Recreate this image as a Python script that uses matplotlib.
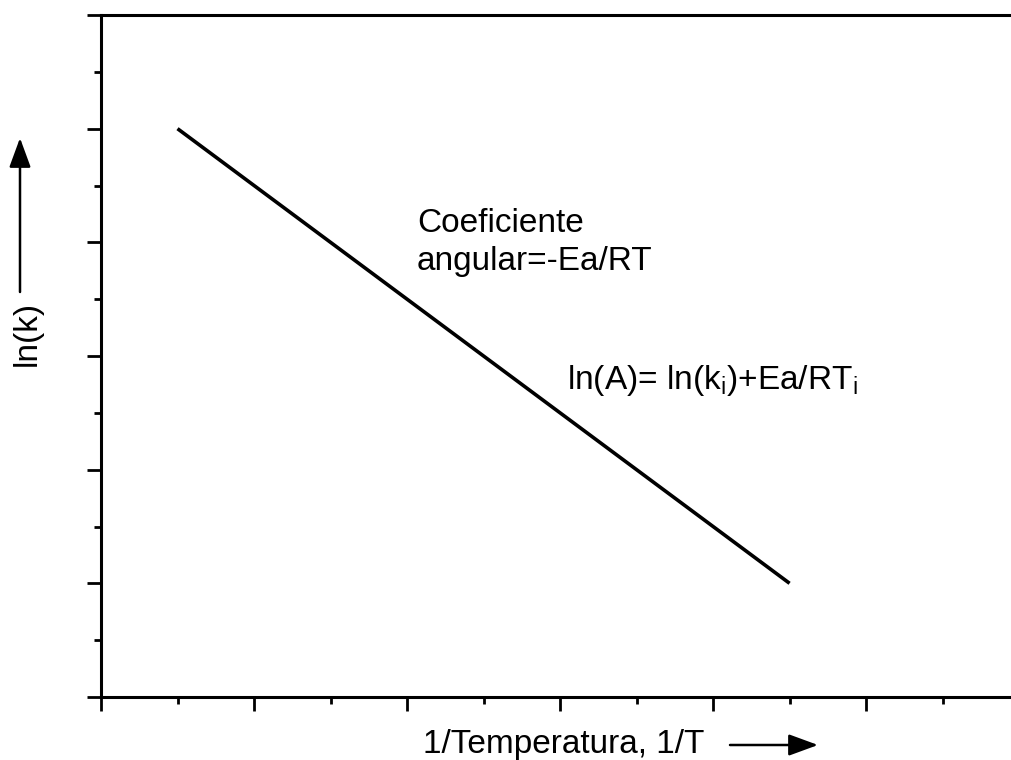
import matplotlib
matplotlib.use('Agg')
import matplotlib.pyplot as plt
from matplotlib.patches import FancyArrowPatch, ArrowStyle
from matplotlib.ticker import MultipleLocator

plt.rcParams['font.family'] = ['Liberation Sans', 'DejaVu Sans']
plt.rcParams['mathtext.fontset'] = 'custom'
plt.rcParams['mathtext.rm'] = 'Liberation Sans'

# schematic Arrhenius line (arbitrary units)
inv_T = [0.5, 4.5]
ln_k = [5.0, 1.0]

W, H = 1011, 760
fig = plt.figure(figsize=(W / 100, H / 100), dpi=100)
ax = fig.add_axes([101 / W, 1 - 697 / H, 1 - 101 / W, 682 / H])

ax.plot(inv_T, ln_k, color='black', lw=2.6, solid_capstyle='butt')

ax.set_xlim(0, 5.947)
ax.set_ylim(0, 6)
ax.xaxis.set_major_locator(MultipleLocator(1))
ax.xaxis.set_minor_locator(MultipleLocator(0.5))
ax.yaxis.set_major_locator(MultipleLocator(1))
ax.yaxis.set_minor_locator(MultipleLocator(0.5))
ax.tick_params(which='major', direction='out', length=10, width=2,
               labelbottom=False, labelleft=False)
ax.tick_params(which='minor', direction='out', length=5, width=2)
for s in ['left', 'bottom', 'top']:
    ax.spines[s].set_linewidth(2.2)
ax.spines['right'].set_visible(False)


def px(x, y):
    # reference pixel coords (from top-left) -> figure fraction
    return x / W, 1 - y / H


fs = 24
fig.text(*px(417, 208), 'Coeficiente\nangular=-Ea/RT', fontsize=fs,
         va='top', ha='left', linespacing=1.3)
fig.text(*px(567, 380), r'ln(A)= ln(k$_\mathregular{i}$)+Ea/RT$_\mathregular{i}$',
         fontsize=fs, va='center', ha='left')
fig.text(*px(423, 745), '1/Temperatura, 1/T', fontsize=fs,
         ha='left', va='center')
fig.text(*px(27, 333), 'ln(k)', fontsize=fs, rotation=90,
         ha='center', va='center')

head = ArrowStyle('-|>', head_length=0.6, head_width=0.22)
arrow = dict(arrowstyle=head, color='black', lw=1.8, mutation_scale=30,
             shrinkA=0, shrinkB=0)
fig.add_artist(FancyArrowPatch(px(730, 745), px(818, 745),
                               transform=fig.transFigure, **arrow))
fig.add_artist(FancyArrowPatch(px(20, 292), px(20, 138),
                               transform=fig.transFigure, **arrow))

fig.savefig('out.png', dpi=100)
